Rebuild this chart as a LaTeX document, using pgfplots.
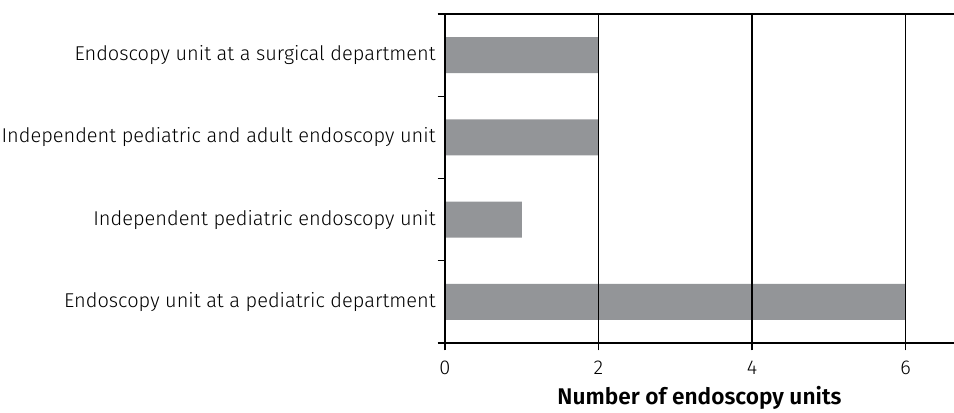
\documentclass[border=0pt]{standalone}
\usepackage{fontspec}
\setmainfont{Fira Sans}[UprightFont=* Light, BoldFont=* SemiBold]
\usepackage{pgfplots}
\pgfplotsset{compat=1.18}
\definecolor{bargray}{HTML}{939598}
\begin{document}
\begin{tikzpicture}[x=0.75pt,y=0.75pt]
\begin{axis}[
  scale only axis,
  width=381.75pt, height=246.75pt,
  xbar, bar width=27pt,
  xmin=0, xmax=6.63,
  ymin=0.5, ymax=4.5,
  axis lines=left,
  axis line style={-, line width=0.9pt},
  axis on top,
  xtick={0,2,4,6},
  xmajorgrids,
  major grid style={black, line width=0.9pt},
  ytick={1,2,3,4},
  yticklabels={Endoscopy unit at a pediatric department,Independent pediatric endoscopy unit,Independent pediatric and adult endoscopy unit,Endoscopy unit at a surgical department},
  minor ytick={0.5,1.5,2.5,3.5,4.5},
  tick align=outside,
  major tick length=5.5pt,
  minor tick length=5.5pt,
  every tick/.style={black, line width=0.9pt},
  every major y tick/.style={draw=none},
  y tick label style={font=\fontsize{15}{17}\selectfont, xshift=2pt},
  x tick label style={font=\fontsize{15}{17}\selectfont, yshift=-4.5pt},
  /pgf/number format/assume math mode=true,
  xlabel={\textbf{Number of endoscopy units}},
  xlabel style={font=\fontsize{17}{19}\selectfont, yshift=-1.5pt},
  clip=false,
]
\addplot[fill=bargray, draw=none] coordinates {(6,1) (1,2) (2,3) (2,4)};
\draw[line width=0.9pt] (rel axis cs:0,1) -- (rel axis cs:1,1);
\coordinate (O) at (rel axis cs:0,0);
\end{axis}
\pgfresetboundingbox
\useasboundingbox ([shift={(-445,-69)}]O) rectangle ++(954,412);
\end{tikzpicture}
\end{document}
